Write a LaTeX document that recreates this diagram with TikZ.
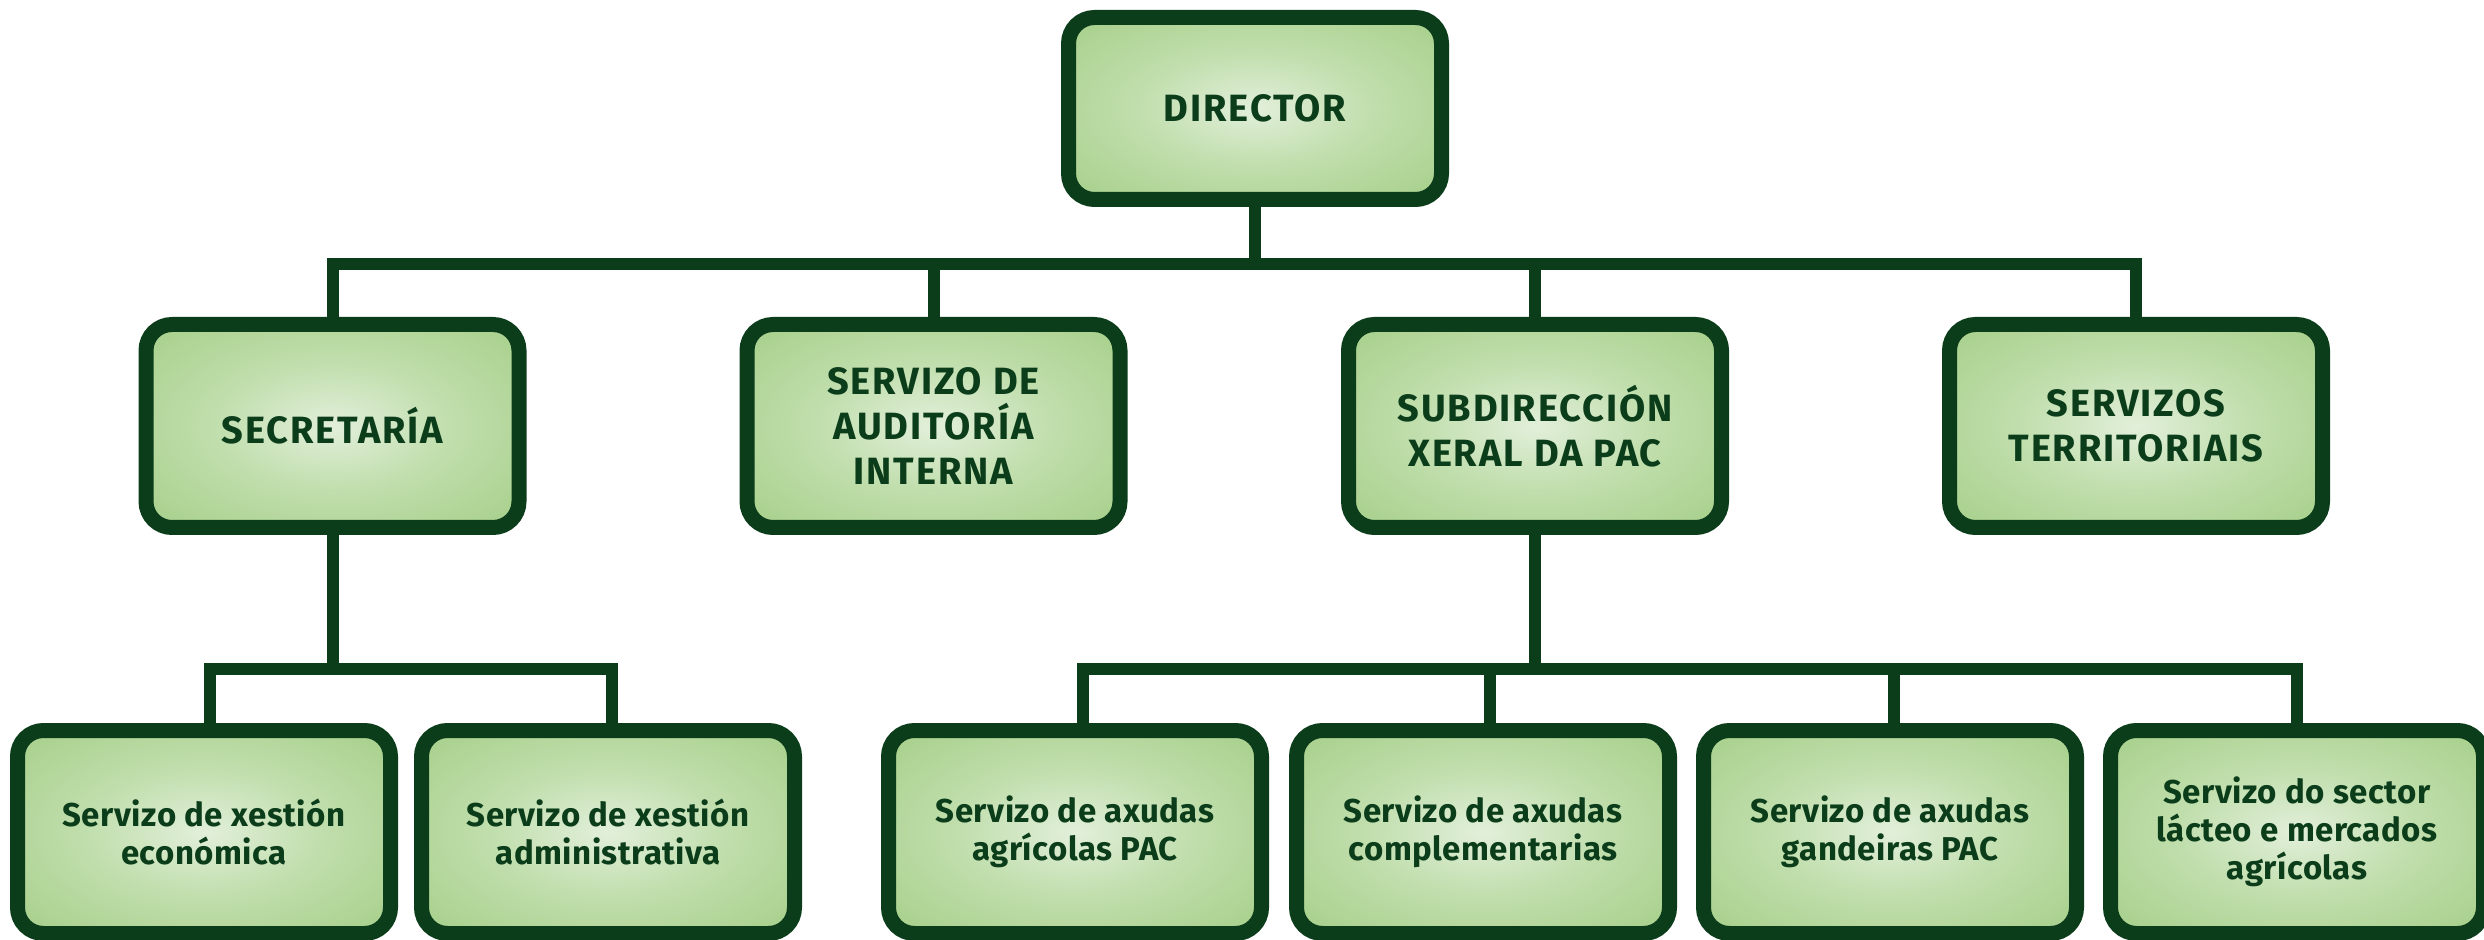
\documentclass[tikz,border=0pt]{standalone}
\usepackage{fontspec}
\setmainfont{Fira Sans}
\definecolor{dg}{RGB}{11,61,27}
\definecolor{gA}{RGB}{226,239,218}
\definecolor{gB}{RGB}{192,222,172}
\definecolor{gC}{RGB}{168,208,140}
\definecolor{gD}{RGB}{146,188,120}
\definecolor{gE}{RGB}{100,142,74}
\pgfdeclareradialshading{boxshade}{\pgfpoint{0bp}{0bp}}{color(0bp)=(gA); color(16bp)=(gB); color(34bp)=(gC); color(47bp)=(gD); color(70bp)=(gE)}
\tikzset{
  box/.style={draw=dg, line width=7.5pt, rounded corners=13pt, shading=boxshade,
    minimum width=186.5pt, minimum height=101.5pt, align=center, text=dg, inner sep=0pt},
  capbox/.style={box, font=\bfseries\fontsize{19}{22.5}\selectfont\addfontfeature{LetterSpace=5}},
  lowbox/.style={box, font=\bfseries\fontsize{16.5}{19}\selectfont\addfontfeature{LetterSpace=1.5}},
  link/.style={draw=dg, line width=6pt}
}
\begin{document}
\begin{tikzpicture}[x=0.5pt, y=-0.5pt]
\useasboundingbox (0,0) rectangle (2484,940);
% top
\node[capbox, minimum height=91pt] (dir) at (1255,108.5) {DIRECTOR};
% middle row
\node[capbox] (sec) at (332.5,426) {SECRETARÍA};
\node[capbox] (aud) at (933.5,426) {SERVIZO DE\\AUDITORÍA\\INTERNA};
\node[capbox] (sub) at (1535,426) {SUBDIRECCIÓN\\XERAL DA PAC};
\node[capbox] (ter) at (2136,426) {SERVIZOS\\TERRITORIAIS};
% bottom row
\node[lowbox] (eco) at (204,832) {Servizo de xestión\\económica};
\node[lowbox] (adm) at (608,832) {Servizo de xestión\\administrativa};
\node[lowbox] (agr) at (1075,832) {Servizo de axudas\\agrícolas PAC};
\node[lowbox] (com) at (1483,832) {Servizo de axudas\\complementarias};
\node[lowbox] (gan) at (1890,832) {Servizo de axudas\\gandeiras PAC};
\node[lowbox] (lac) at (2297,832) {Servizo do sector\\lácteo e mercados\\agrícolas};
% bus coordinates
\coordinate (tb) at (1255,264);
\coordinate (lb) at (332.5,669);
\coordinate (rb) at (1535,669);
\coordinate (ecoT) at ([xshift=3pt]eco.north);
\coordinate (admT) at ([xshift=2pt]adm.north);
\coordinate (agrT) at ([xshift=4pt]agr.north);
\coordinate (comT) at ([xshift=3.5pt]com.north);
\coordinate (ganT) at ([xshift=2pt]gan.north);
% connectors
\path[link] (dir.south) -- (tb);
\path[link] (sec.north) -- (sec.north |- tb) -- (ter.north |- tb) -- (ter.north);
\path[link] (aud.north) -- (aud.north |- tb);
\path[link] (sub.north) -- (sub.north |- tb);
\path[link] (sec.south) -- (lb);
\path[link] (ecoT) -- (ecoT |- lb) -- (admT |- lb) -- (admT);
\path[link] (sub.south) -- (rb);
\path[link] (agrT) -- (agrT |- rb) -- (lac.north |- rb) -- (lac.north);
\path[link] (comT) -- (comT |- rb);
\path[link] (ganT) -- (ganT |- rb);
\end{tikzpicture}
\end{document}
